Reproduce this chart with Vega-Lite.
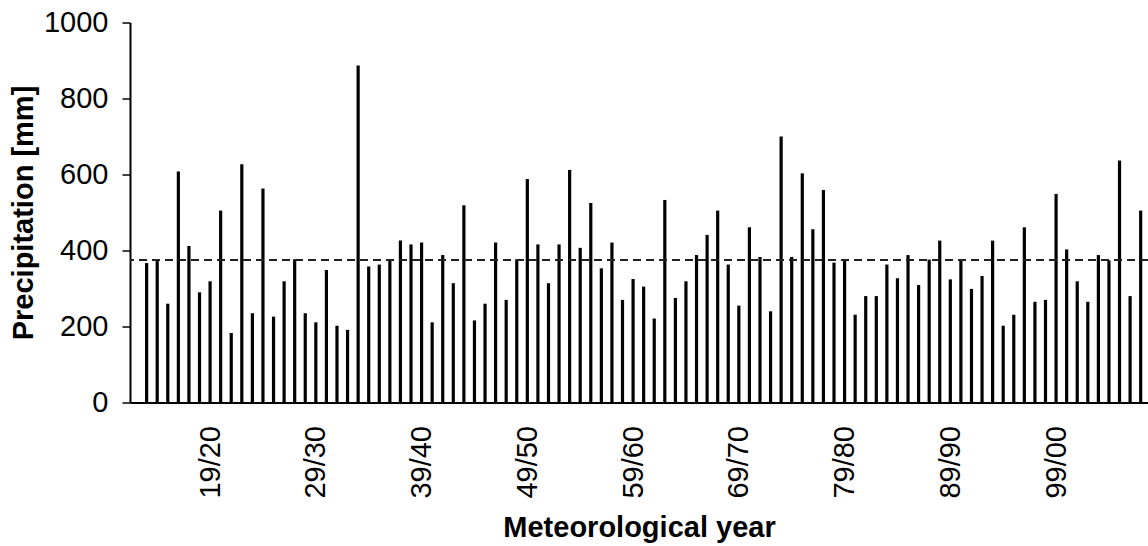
{
  "$schema": "https://vega.github.io/schema/vega-lite/v6.json",
  "width": 1018,
  "height": 380,
  "autosize": "none",
  "padding": {"left": 130, "top": 22.5, "right": 0, "bottom": 143.5},
  "background": "white",
  "config": {
    "view": {"stroke": null},
    "font": "Liberation Sans",
    "axis": {"grid": false}
  },
  "data": {
    "values": [
      {"start": 1913, "precip": 367}, {"start": 1914, "precip": 374}, {"start": 1915, "precip": 260},
      {"start": 1916, "precip": 608}, {"start": 1917, "precip": 412}, {"start": 1918, "precip": 290},
      {"start": 1919, "precip": 319}, {"start": 1920, "precip": 505}, {"start": 1921, "precip": 183},
      {"start": 1922, "precip": 627}, {"start": 1923, "precip": 235}, {"start": 1924, "precip": 563},
      {"start": 1925, "precip": 226}, {"start": 1926, "precip": 319}, {"start": 1927, "precip": 377},
      {"start": 1928, "precip": 235}, {"start": 1929, "precip": 211}, {"start": 1930, "precip": 349},
      {"start": 1931, "precip": 202}, {"start": 1932, "precip": 191}, {"start": 1933, "precip": 887},
      {"start": 1934, "precip": 358}, {"start": 1935, "precip": 363}, {"start": 1936, "precip": 374},
      {"start": 1937, "precip": 426}, {"start": 1938, "precip": 416}, {"start": 1939, "precip": 421},
      {"start": 1940, "precip": 211}, {"start": 1941, "precip": 388}, {"start": 1942, "precip": 314},
      {"start": 1943, "precip": 519}, {"start": 1944, "precip": 216}, {"start": 1945, "precip": 260},
      {"start": 1946, "precip": 421}, {"start": 1947, "precip": 270}, {"start": 1948, "precip": 377},
      {"start": 1949, "precip": 588}, {"start": 1950, "precip": 416}, {"start": 1951, "precip": 314},
      {"start": 1952, "precip": 416}, {"start": 1953, "precip": 612}, {"start": 1954, "precip": 407},
      {"start": 1955, "precip": 525}, {"start": 1956, "precip": 353}, {"start": 1957, "precip": 421},
      {"start": 1958, "precip": 270}, {"start": 1959, "precip": 325}, {"start": 1960, "precip": 305},
      {"start": 1961, "precip": 221}, {"start": 1962, "precip": 533}, {"start": 1963, "precip": 275},
      {"start": 1964, "precip": 319}, {"start": 1965, "precip": 388}, {"start": 1966, "precip": 441},
      {"start": 1967, "precip": 505}, {"start": 1968, "precip": 363}, {"start": 1969, "precip": 255},
      {"start": 1970, "precip": 461}, {"start": 1971, "precip": 383}, {"start": 1972, "precip": 240},
      {"start": 1973, "precip": 700}, {"start": 1974, "precip": 383}, {"start": 1975, "precip": 603},
      {"start": 1976, "precip": 456}, {"start": 1977, "precip": 559}, {"start": 1978, "precip": 368},
      {"start": 1979, "precip": 374}, {"start": 1980, "precip": 231}, {"start": 1981, "precip": 280},
      {"start": 1982, "precip": 280}, {"start": 1983, "precip": 363}, {"start": 1984, "precip": 327},
      {"start": 1985, "precip": 388}, {"start": 1986, "precip": 309}, {"start": 1987, "precip": 376},
      {"start": 1988, "precip": 426}, {"start": 1989, "precip": 324}, {"start": 1990, "precip": 377},
      {"start": 1991, "precip": 299}, {"start": 1992, "precip": 333}, {"start": 1993, "precip": 426},
      {"start": 1994, "precip": 202}, {"start": 1995, "precip": 231}, {"start": 1996, "precip": 461},
      {"start": 1997, "precip": 265}, {"start": 1998, "precip": 270}, {"start": 1999, "precip": 549},
      {"start": 2000, "precip": 403}, {"start": 2001, "precip": 319}, {"start": 2002, "precip": 265},
      {"start": 2003, "precip": 388}, {"start": 2004, "precip": 374}, {"start": 2005, "precip": 637},
      {"start": 2006, "precip": 280}, {"start": 2007, "precip": 505}
    ]
  },
  "layer": [
    {
      "mark": {"type": "bar", "width": 3.2, "color": "black"},
      "encoding": {
        "x": {
          "field": "start",
          "type": "quantitative",
          "scale": {"domain": [1911.9, 2007.22], "nice": false, "zero": false},
          "axis": {
            "title": "Meteorological year",
            "values": [1919, 1929, 1939, 1949, 1959, 1969, 1979, 1989, 1999],
            "labelExpr": "slice('0' + (datum.value % 100), -2) + '/' + slice('0' + ((datum.value + 1) % 100), -2)",
            "labelAngle": -90,
            "labelAlign": "right",
            "labelBaseline": "middle",
            "labelFontSize": 29,
            "labelPadding": 23,
            "labelColor": "black",
            "labelFlush": false,
            "labelOverlap": false,
            "ticks": false,
            "domainColor": "black",
            "domainWidth": 2,
            "titleFontSize": 29,
            "titleFontWeight": "bold",
            "titleColor": "black",
            "titleY": 134,
            "titleBaseline": "alphabetic"
          }
        },
        "y": {
          "field": "precip",
          "type": "quantitative",
          "scale": {"domain": [0, 1000], "nice": false},
          "axis": {
            "title": "Precipitation [mm]",
            "values": [0, 200, 400, 600, 800, 1000],
            "format": "d",
            "tickSize": 8,
            "tickWidth": 1.5,
            "tickColor": "black",
            "labelPadding": 14,
            "labelFontSize": 29,
            "labelColor": "black",
            "domainColor": "black",
            "domainWidth": 2,
            "titleFontSize": 29,
            "titleFontWeight": "bold",
            "titleColor": "black",
            "titleX": -107,
            "titleBaseline": "middle"
          }
        }
      }
    },
    {
      "mark": {"type": "rule", "color": "#222222", "strokeWidth": 1, "strokeDash": [8, 5]},
      "encoding": {"y": {"datum": 374}}
    }
  ]
}
